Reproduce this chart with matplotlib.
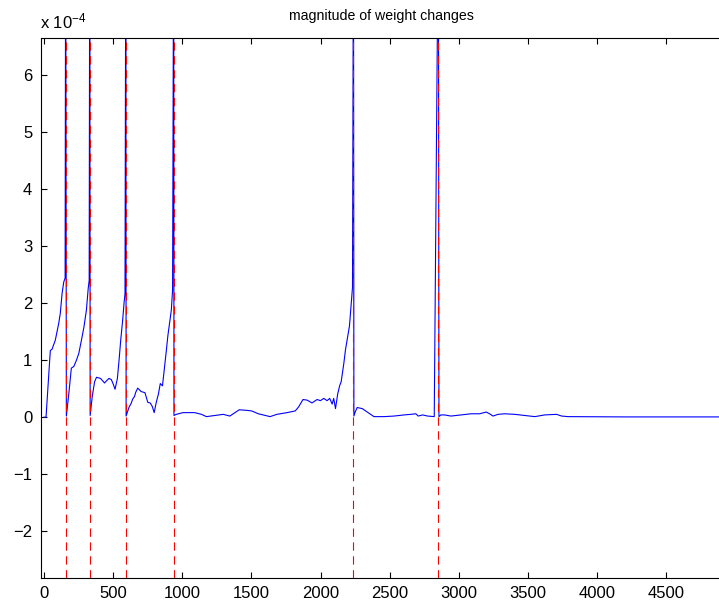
import numpy as np
import matplotlib
matplotlib.use('Agg')
import matplotlib.pyplot as plt

plt.rcParams['font.family'] = 'Liberation Sans'
plt.rcParams['mathtext.fontset'] = 'custom'
plt.rcParams['mathtext.rm'] = 'Liberation Sans'
plt.rcParams['mathtext.it'] = 'Liberation Sans'
plt.rcParams['lines.scale_dashes'] = False

# iterations where a new pattern started (red dashed markers)
reset_iters = [157, 331, 592, 938, 2238, 2852]

# magnitude of weight changes (units of 1e-4);
# the 9.0 entries are the spikes that run off the top of the plot
iters = [0, 15, 46, 58, 82, 107, 118, 131, 143, 153, 157, 162,
         180, 198, 216, 235, 252, 271, 289, 307, 320, 327, 331, 334,
         349, 366, 380, 409, 438, 453, 470, 487, 501, 514, 531, 543, 555, 569, 579, 586, 592, 594,
         616, 630, 642, 654, 664, 678, 703, 730, 751, 768, 783, 797, 812, 828, 841, 857,
         872, 884, 896, 908, 921, 930, 938, 940,
         957, 1005, 1090, 1139, 1175, 1235, 1296, 1344, 1412, 1466, 1502, 1550, 1635, 1684,
         1757, 1817, 1841, 1873, 1902, 1938, 1975, 1999, 2023, 2047, 2066, 2084, 2095, 2108,
         2124, 2139, 2149, 2168, 2180, 2209, 2224, 2231, 2238, 2241,
         2250, 2265, 2302, 2338, 2386, 2459, 2531, 2604, 2653, 2689, 2706, 2738, 2774, 2822, 2852, 2856,
         2870, 2895, 2943, 3016, 3089, 3149, 3198, 3222, 3247, 3283, 3331, 3404, 3476, 3549,
         3621, 3706, 3743, 3791, 4200, 4900]
dw = [0, 0, 1.17, 1.19, 1.35, 1.65, 1.82, 2.17, 2.37, 2.44, 9.0, 0.02,
      0.42, 0.86, 0.89, 1.0, 1.12, 1.35, 1.58, 1.88, 2.26, 2.40, 9.0, 0.03,
      0.36, 0.62, 0.70, 0.68, 0.60, 0.64, 0.68, 0.66, 0.58, 0.49, 0.68, 1.0, 1.35, 1.70, 2.0, 2.17, 9.0, 0.02,
      0.18, 0.24, 0.32, 0.36, 0.44, 0.51, 0.45, 0.43, 0.26, 0.25, 0.19, 0.08, 0.26, 0.41, 0.59, 0.55,
      0.88, 1.15, 1.43, 1.64, 1.88, 2.23, 9.0, 0.03,
      0.05, 0.08, 0.08, 0.05, 0.01, 0.03, 0.05, 0.02, 0.13, 0.12, 0.11, 0.06, 0.01, 0.05,
      0.08, 0.11, 0.18, 0.31, 0.30, 0.25, 0.31, 0.29, 0.33, 0.29, 0.33, 0.23, 0.33, 0.15,
      0.41, 0.56, 0.62, 0.94, 1.18, 1.60, 2.05, 2.28, 9.0, 0.02,
      0.09, 0.17, 0.15, 0.09, 0.01, 0.01, 0.02, 0.04, 0.05, 0.06, 0.02, 0.04, 0.02, 0.01, 9.0, 0.01,
      0.04, 0.04, 0.02, 0.04, 0.06, 0.06, 0.09, 0.06, 0.02, 0.05, 0.06, 0.05, 0.03, 0.01,
      0.04, 0.05, 0.02, 0.01, 0.005, 0.005]

fig = plt.figure(figsize=(7.19, 6.08), dpi=100)
ax = fig.add_axes([40.5 / 719, 30 / 608, 681 / 719, 540 / 608])

ax.plot(iters, dw, color='blue', linewidth=0.8, zorder=2)
for it in reset_iters:
    ax.axvline(it, color='red', linewidth=0.8, linestyle=(0, (6, 4)), zorder=3)

ax.set_xlim(-25, 4899)
ax.set_ylim(-2.82, 6.65)
ax.set_xticks(np.arange(0, 5000, 500))
ax.set_yticks(np.arange(-2, 7, 1))
ax.tick_params(direction='in', length=4.5, width=0.8, labelsize=12,
               top=True, right=False, pad=6)
for s in ax.spines.values():
    s.set_linewidth(0.8)

ax.set_title('magnitude of weight changes', fontsize=10.2, pad=13)
fig.text(40 / 719, 1 - 28 / 608, r'x 10$^{-4}$', fontsize=12, va='baseline')

plt.savefig('out.png', dpi=100)
